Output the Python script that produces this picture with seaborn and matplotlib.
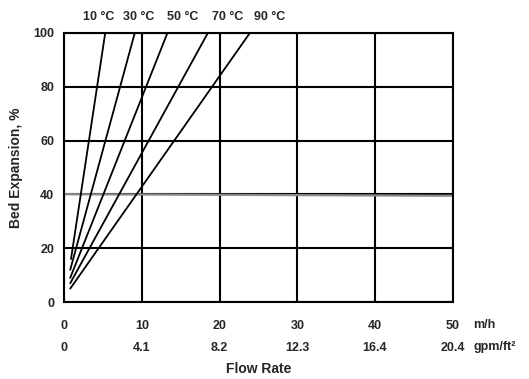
"""
Bed expansion vs flow rate at several water temperatures
"""

import matplotlib

matplotlib.use("Agg")
import matplotlib.pyplot as plt
import pandas as pd
import seaborn as sns

# ─── data ──────────────────────────────────────────────────────────
temps = ["10 °C", "30 °C", "50 °C", "70 °C", "90 °C"]
flow_start = [0.9, 0.8, 0.8, 0.8, 0.8]  # m/h
flow_end = [5.3, 9.1, 13.3, 18.5, 23.9]  # m/h at 100 %
exp_start = [16, 12, 9, 7, 5]  # %
exp_end = [100, 100, 100, 100, 100]  # %

# gray reference line (approx. 40 %)
ref_flow = [0, 50]
ref_exp = [40.1, 39.5]

# label positions along the top (m/h)
label_x = [4.5, 9.6, 15.3, 21.1, 26.5]

mh_ticks = [0, 10, 20, 30, 40, 50]
gpm_labels = ["0", "4.1", "8.2", "12.3", "16.4", "20.4"]
y_ticks = [0, 20, 40, 60, 80, 100]

rows = []
for t, x0, x1, y0, y1 in zip(temps, flow_start, flow_end, exp_start, exp_end):
    rows.append({"temp": t, "flow": x0, "exp": y0})
    rows.append({"temp": t, "flow": x1, "exp": y1})
df = pd.DataFrame(rows)
ref = pd.DataFrame({"flow": ref_flow, "exp": ref_exp})

# ─── figure ────────────────────────────────────────────────────────
sns.set_style("white")
plt.rcParams["font.family"] = ["Liberation Sans", "DejaVu Sans"]
plt.rcParams["font.weight"] = "bold"
FS = 9

fig = plt.figure(figsize=(5.29, 3.79), dpi=100, facecolor="white")
ax = fig.add_axes([0.121, 0.203, 0.735, 0.710])

# grid
for x in mh_ticks:
    ax.axvline(x, color="black", linewidth=1.5, zorder=1)
for y in y_ticks:
    ax.axhline(y, color="black", linewidth=1.5, zorder=1)

sns.lineplot(data=ref, x="flow", y="exp", color="#8a8a8a", linewidth=1.6,
             ax=ax, zorder=2)
sns.lineplot(data=df, x="flow", y="exp", hue="temp",
             palette=["black"] * len(temps), linewidth=1.3,
             legend=False, ax=ax, zorder=3)

ax.set_xlim(0, 50)
ax.set_ylim(0, 100)
for s in ax.spines.values():
    s.set_color("black")
    s.set_linewidth(1.5)

ax.set_xticks(mh_ticks)
ax.set_xticklabels([str(v) for v in mh_ticks], fontsize=FS, fontweight="bold")
ax.set_yticks(y_ticks)
ax.set_yticklabels([str(v) for v in y_ticks], fontsize=FS, fontweight="bold")
ax.tick_params(axis="x", length=0, pad=13)
ax.tick_params(axis="y", length=0, pad=7)

# second row of x labels (gpm/ft2)
sec = ax.secondary_xaxis(-0.082)
sec.set_xticks(mh_ticks)
sec.set_xticklabels(gpm_labels, fontsize=FS, fontweight="bold")
sec.tick_params(length=0, pad=13)
sec.spines["bottom"].set_visible(False)

# units
ax.text(1.053, -0.085, "m/h", transform=ax.transAxes, fontsize=FS,
        fontweight="bold", va="center", ha="left")
ax.text(1.053, -0.167, "gpm/ft²", transform=ax.transAxes, fontsize=FS,
        fontweight="bold", va="center", ha="left")

# temperature labels
for t, lx in zip(temps, label_x):
    ax.text(lx, 106, t, fontsize=FS, fontweight="bold", ha="center",
            va="center", clip_on=False)

ax.set_xlabel("Flow Rate", fontsize=10, fontweight="bold")
ax.xaxis.set_label_coords(0.5, -0.222)
ax.set_ylabel("Bed Expansion, %", fontsize=10, fontweight="bold")
ax.yaxis.set_label_coords(-0.105, 0.5)

fig.savefig("out.png", dpi=100, facecolor="white")
